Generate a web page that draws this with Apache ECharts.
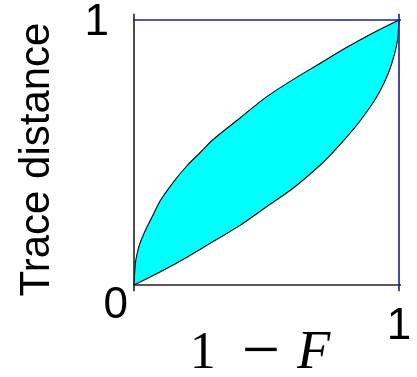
<!DOCTYPE html>
<html>
<head>
<meta charset="utf-8">
<style>
  html, body { margin: 0; padding: 0; background: #ffffff; }
  #chart { width: 417px; height: 377px; }
</style>
<script src="https://cdn.jsdelivr.net/npm/echarts@6/dist/echarts.min.js"></script>
</head>
<body>
<div id="chart"></div>
<script>
// Upper bound of the trace distance as a function of 1 - F
const upperX = [0, 0.005, 0.01, 0.02, 0.04, 0.07, 0.1, 0.15, 0.2, 0.25, 0.3, 0.4, 0.5, 0.6, 0.7, 0.8, 0.9, 1];
const upperY = [0, 0.08, 0.11, 0.15, 0.2, 0.26, 0.32, 0.39, 0.45, 0.5, 0.55, 0.63, 0.71, 0.775, 0.835, 0.895, 0.95, 1];
// Lower bound of the trace distance
const lowerX = [0, 0.1, 0.2, 0.3, 0.4, 0.5, 0.6, 0.7, 0.75, 0.8, 0.85, 0.9, 0.93, 0.96, 0.98, 0.99, 0.995, 1];
const lowerY = [0, 0.05, 0.105, 0.165, 0.225, 0.295, 0.365, 0.45, 0.5, 0.555, 0.615, 0.685, 0.735, 0.8, 0.86, 0.9, 0.93, 1];

const xTickLabels = ['', '1'];
const yTickLabels = ['0', '1'];
const xTitle = ['1', '\u2212', 'F'];
const yTitle = 'Trace distance';

const upperPts = upperX.map((x, i) => [x, upperY[i]]);
const lowerPts = lowerX.map((x, i) => [x, lowerY[i]]);
// Closed outline: along the upper bound left to right, back along the lower bound
const outline = upperPts.concat(lowerPts.slice().reverse());

const ext = 0.024;
const navy = '#1c1c90';
const dark = '#222222';
const SMOOTH = 0.35;

function edge(data, color) {
  return {
    type: 'line', data: data, symbol: 'none', clip: false, silent: true, z: 5,
    lineStyle: { color: color, width: 1.6 }, animation: false
  };
}

const chart = echarts.init(document.getElementById('chart'), null, { renderer: 'canvas' });
chart.setOption({
  animation: false,
  backgroundColor: '#ffffff',
  grid: { left: 134, top: 20, width: 265, height: 265, outerBoundsMode: 'none', containLabel: false },
  xAxis: {
    type: 'value', min: 0, max: 1, interval: 1,
    axisLine: { show: false }, axisTick: { show: false }, splitLine: { show: false },
    axisLabel: {
      margin: 20, color: '#000', fontFamily: 'Liberation Sans', fontSize: 44,
      formatter: v => xTickLabels[Math.round(v)]
    },
    name: '{a|' + xTitle[0] + '}{m|' + xTitle[1] + '}{f|' + xTitle[2] + '}',
    nameLocation: 'middle', nameGap: 35, nameMoveOverlap: false,
    nameTextStyle: {
      padding: [0, 13, 0, 0],
      rich: {
        a: { fontFamily: 'Liberation Serif', fontSize: 52, color: '#000' },
        m: { fontFamily: 'Liberation Serif', fontSize: 68, color: '#000', padding: [0, 17, 0, 26] },
        f: { fontFamily: 'Liberation Serif', fontStyle: 'italic', fontSize: 54, color: '#000' }
      }
    }
  },
  yAxis: {
    type: 'value', min: 0, max: 1, interval: 1,
    axisLine: { show: false }, axisTick: { show: false }, splitLine: { show: false },
    axisLabel: {
      margin: 6,
      formatter: v => (v === 0 ? '{z|' : '{o|') + yTickLabels[Math.round(v)] + '}',
      rich: {
        z: { fontFamily: 'Liberation Sans', fontSize: 44, color: '#000', padding: [42, 0, 0, 0] },
        o: { fontFamily: 'Liberation Sans', fontSize: 44, color: '#000', padding: [6, 19, 0, 0] }
      }
    },
    name: yTitle, nameLocation: 'middle', nameGap: 76, nameMoveOverlap: false,
    nameTextStyle: {
      fontFamily: 'Liberation Sans', fontSize: 42, color: '#000',
      padding: [0, 14, 0, 0]
    }
  },
  series: [
    {
      type: 'custom', z: 2, silent: true,
      data: [[0, 0]],
      renderItem: function (params, api) {
        const toPx = pts => pts.map(p => api.coord(p));
        return {
          type: 'group',
          children: [
            {
              type: 'polygon',
              shape: { points: toPx(outline), smooth: SMOOTH },
              style: { fill: '#00ffff', stroke: null }
            },
            {
              type: 'polyline',
              shape: { points: toPx(upperPts), smooth: SMOOTH },
              style: { fill: null, stroke: '#000000', lineWidth: 1.1 }
            },
            {
              type: 'polyline',
              shape: { points: toPx(lowerPts), smooth: SMOOTH },
              style: { fill: null, stroke: '#000000', lineWidth: 1.1 }
            }
          ]
        };
      }
    },
    edge([[-ext, 1], [1 + ext, 1]], navy),
    edge([[1, -ext], [1, 1 + ext]], navy),
    edge([[-ext, 0], [1 + ext, 0]], dark),
    edge([[0, -ext], [0, 1 + ext]], dark)
  ]
});
</script>
</body>
</html>
